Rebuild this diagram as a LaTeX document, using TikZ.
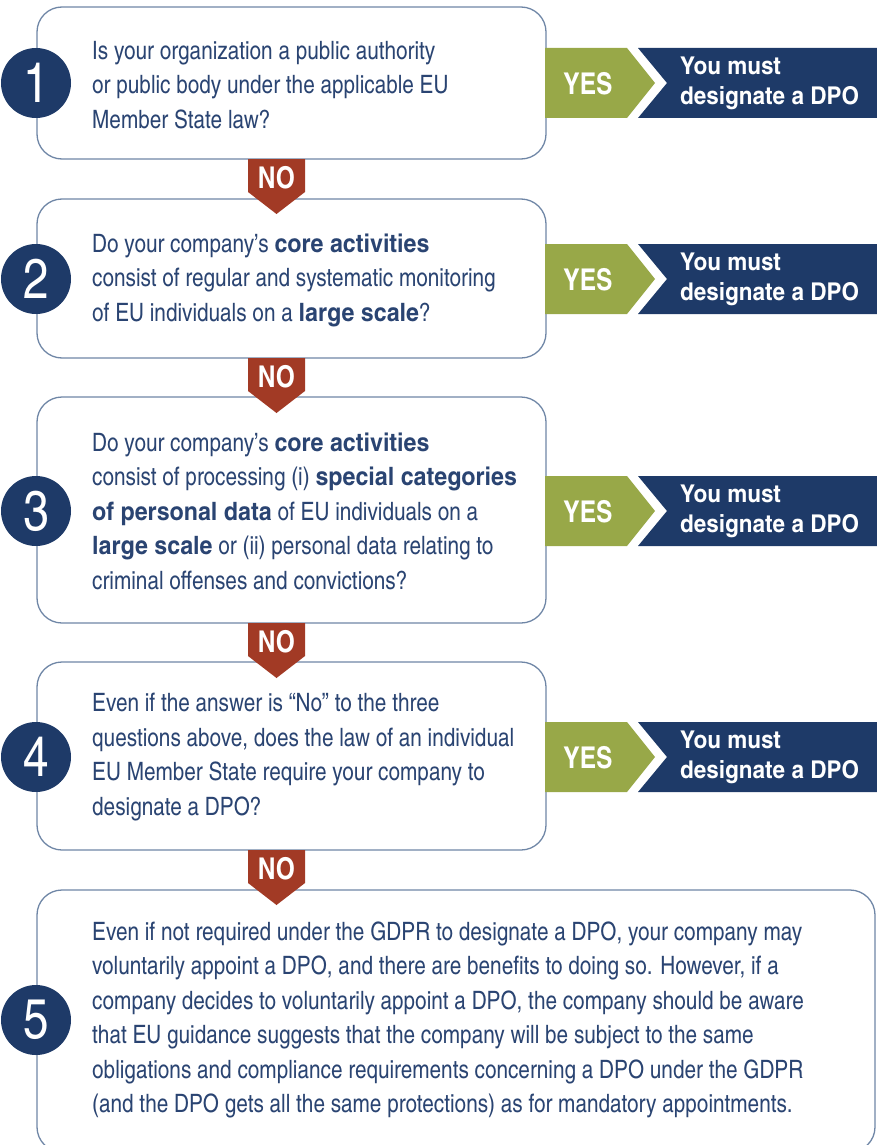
\documentclass[tikz,border=0pt]{standalone}
\usepackage{fontspec}
\setmainfont{texgyreheroscn}[Extension=.otf, UprightFont=*-regular, BoldFont=*-bold, ItalicFont=*-italic, BoldItalicFont=*-bolditalic, BoldFeatures={FakeStretch=1.12}]
\newfontfamily\labelfont{texgyreheroscn}[Extension=.otf, UprightFont=*-bold]
\definecolor{navy}{HTML}{1E3A68}
\definecolor{bordercol}{HTML}{6F86A6}
\definecolor{txtcol}{HTML}{2A4472}
\definecolor{yesgreen}{HTML}{98A848}
\definecolor{nored}{HTML}{A23A25}
\begin{document}
\begin{tikzpicture}[x=1pt,y=-1pt,
  box/.style={draw=bordercol, line width=1.3pt, rounded corners=25pt, fill=white, inner sep=0pt},
  num/.style={circle, fill=navy, text=white, minimum size=70pt, inner sep=0pt, font=\fontsize{56}{56}\selectfont},
  qtext/.style={anchor=west, align=left, text=txtcol, inner sep=0pt, font=\fontsize{25.3}{34.5}\selectfont},
  notext/.style={text=white, inner sep=0pt, font=\labelfont\fontsize{30}{30}\selectfont},
  yestext/.style={text=white, inner sep=0pt, font=\labelfont\fontsize{30}{30}\selectfont},
  musttext/.style={anchor=west, align=left, text=white, inner sep=0pt, font=\bfseries\fontsize{24.5}{30}\selectfont}]
\useasboundingbox (0,0) rectangle (877,1145);
\begin{scope}
\clip (0,0) rectangle (877,1145);
% boxes
\node[box, minimum width=509pt, minimum height=152pt] (b1) at (291.5,83) {};
\node[box, minimum width=509pt, minimum height=159pt] (b2) at (291.5,278.5) {};
\node[box, minimum width=509pt, minimum height=226pt] (b3) at (291.5,510) {};
\node[box, minimum width=509pt, minimum height=188pt] (b4) at (291.5,756) {};
\node[box, minimum width=838pt, minimum height=262pt] (b5) at (456,1021) {};
\end{scope}
% NO arrows
\foreach \i/\t in {1/159,2/358,3/623,4/850}{
  \fill[nored] (248,\t) -- (305,\t) -- (305,\t+33) -- (276.5,\t+55) -- (248,\t+33) -- cycle;
  \node[notext] (no\i) at (276.5,\t+19) {NO};
}
% YES chevrons
\foreach \i/\c in {1/83,2/279,3/511,4/757}{
  \fill[yesgreen] (545,\c-35) -- (627,\c-35) -- (655,\c) -- (627,\c+35) -- (545,\c+35) -- cycle;
  \fill[navy] (638,\c-35) -- (877,\c-35) -- (877,\c+35) -- (638,\c+35) -- (667,\c) -- cycle;
  \node[yestext] (yes\i) at (588,\c+1) {YES};
  \node[musttext] (must\i) at (680,\c) {You must\\designate a DPO};
}
% numbers
\node[num] (n1) at (36,83) {1};
\node[num] (n2) at (36,279) {2};
\node[num] (n3) at (36,511) {3};
\node[num] (n4) at (36,757) {4};
\node[num] (n5) at (36,1020) {5};
% texts
\node[qtext] (t1) at (92,85) {Is your organization a public authority\\or public body under the applicable EU\\Member State law?};
\node[qtext] (t2) at (92,280) {Do your company’s \textbf{core activities}\\consist of regular and systematic monitoring\\of EU individuals on a \textbf{large scale}?};
\node[qtext] (t3) at (92,511) {Do your company’s \textbf{core activities}\\consist of processing (i) \textbf{special categories}\\\textbf{of personal data} of EU individuals on a\\\textbf{large scale} or (ii) personal data relating to\\criminal offenses and convictions?};
\node[qtext] (t4) at (92,757) {Even if the answer is “No” to the three\\questions above, does the law of an individual\\EU Member State require your company to\\designate a DPO?};
\node[qtext] (t5) at (92,1020) {Even if not required under the GDPR to designate a DPO, your company may\\voluntarily appoint a DPO, and there are benefits to doing so. However, if a\\company decides to voluntarily appoint a DPO, the company should be aware\\that EU guidance suggests that the company will be subject to the same\\obligations and compliance requirements concerning a DPO under the GDPR\\(and the DPO gets all the same protections) as for mandatory appointments.};
\end{tikzpicture}
\end{document}
